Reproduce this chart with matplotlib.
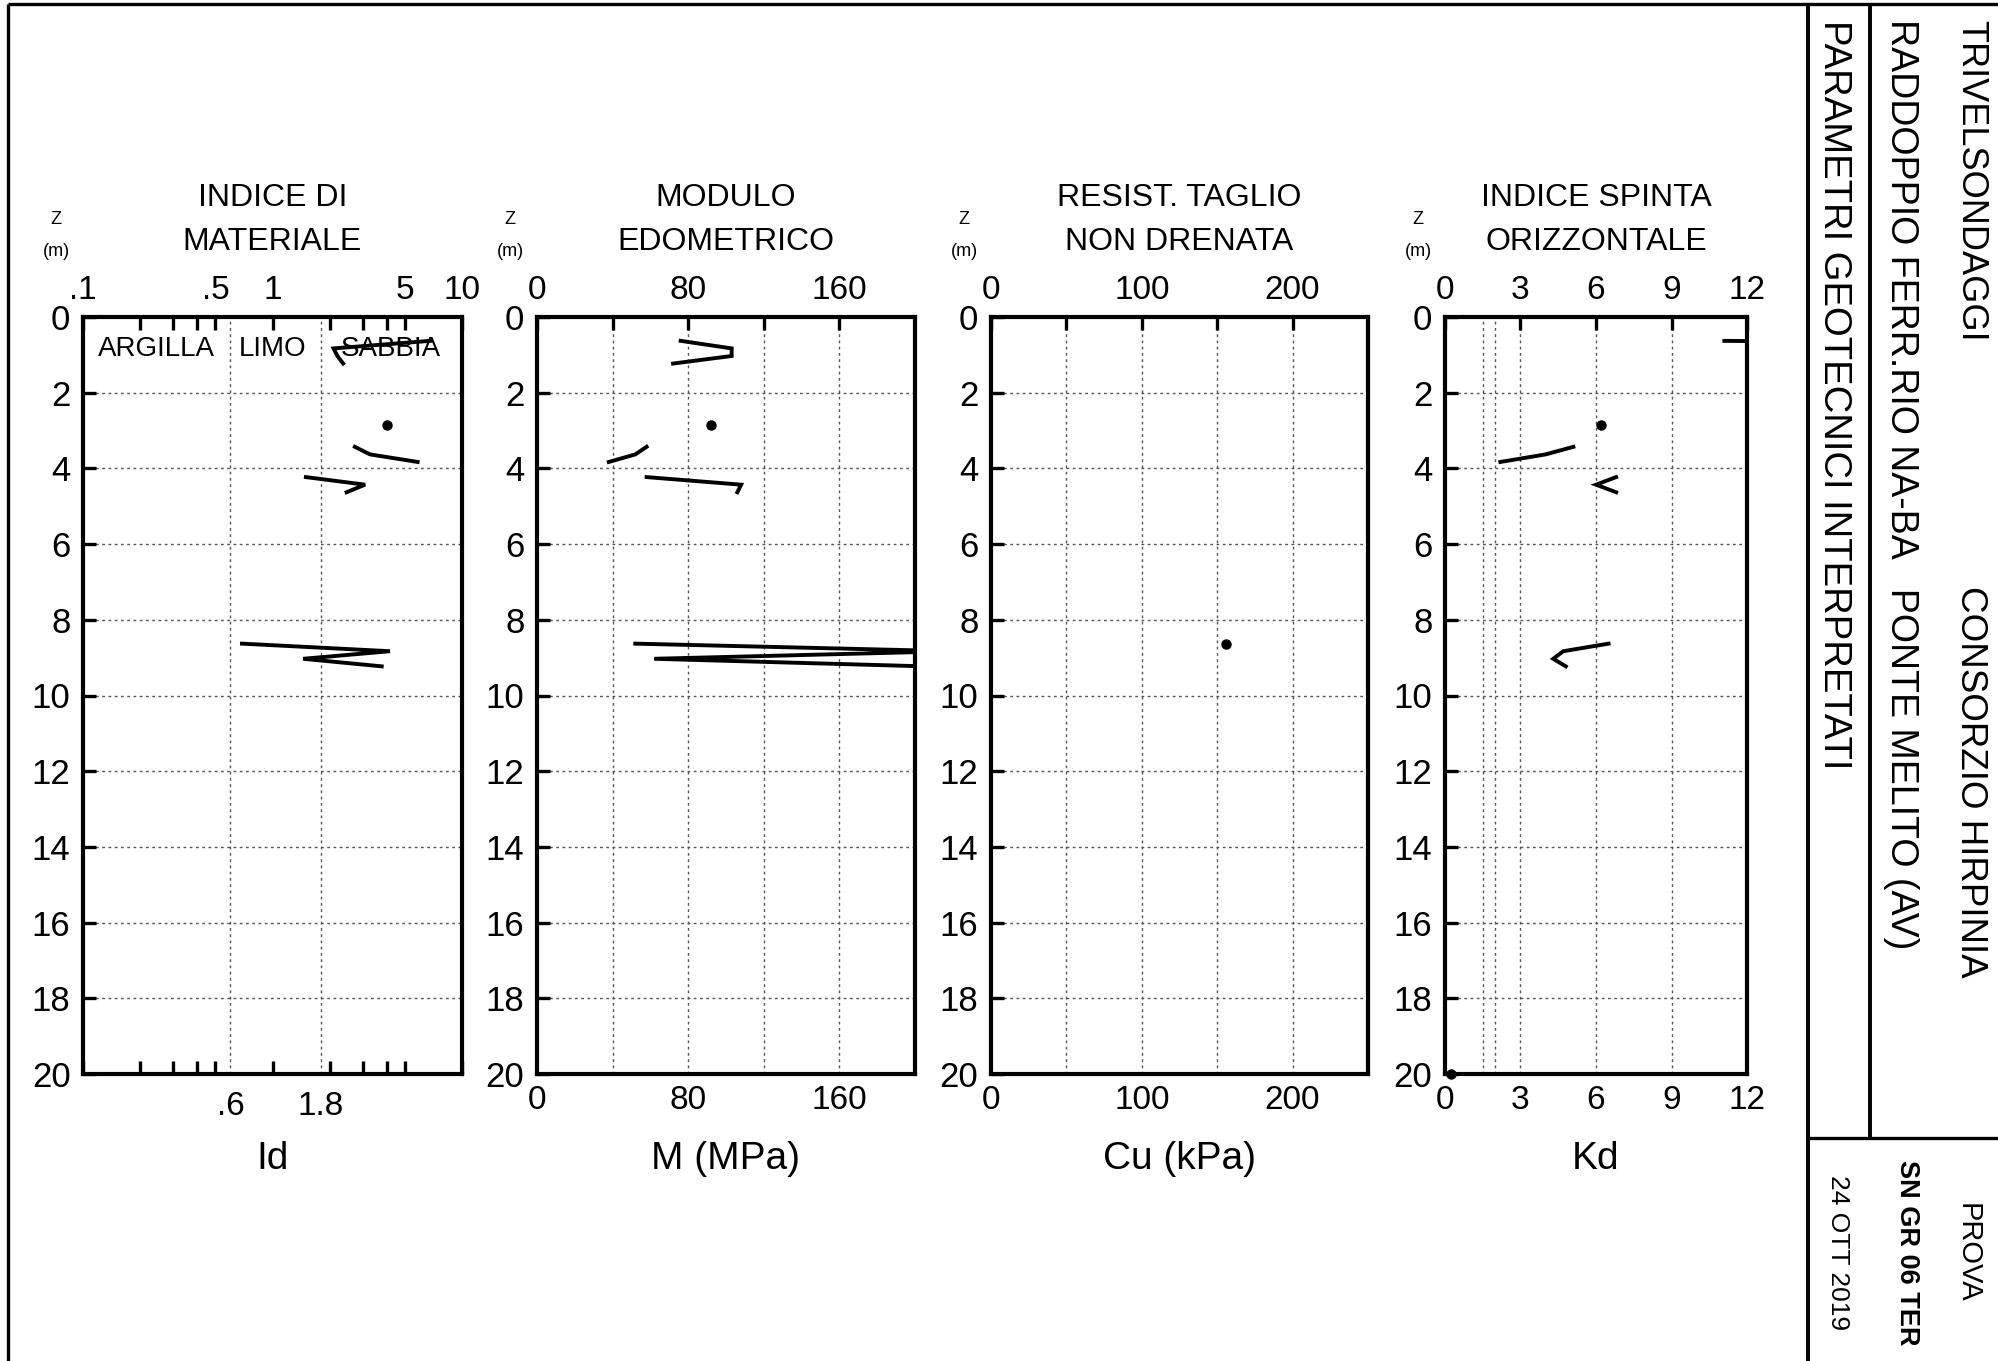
import numpy as np
import matplotlib
matplotlib.use("Agg")
import matplotlib.pyplot as plt
from matplotlib import font_manager
from matplotlib.lines import Line2D
from matplotlib.ticker import FixedLocator, FixedFormatter, NullFormatter

# dmt readings (depth in m), nan = no reading / gap
depth = [0.63, 0.83, 1.03, 1.23, 1.43, 2.85, 3.03, 3.43, 3.63, 3.83, 4.03,
         4.23, 4.43, 4.63, 4.83, 8.63, 8.83, 9.03, 9.23, 9.43, 20.0]
nan = np.nan
id_vals = [6.8, 2.1, 2.2, 2.36, nan, 4.0, nan, 2.72, 3.27, 5.83, nan,
           1.5, 3.08, 2.46, nan, 0.69, 4.17, 1.45, 3.77, nan, nan]
m_vals = [76, 103, 103, 72, nan, 92, nan, 58, 52, 38, nan,
          58, 108, 106, nan, 52, 220, 62, 205, nan, nan]
cu_vals = [nan, nan, nan, nan, nan, nan, nan, nan, nan, nan, nan,
           nan, nan, nan, nan, 156, nan, nan, nan, nan, nan]
kd_vals = [11.1, 40, 38, 25, nan, 6.2, nan, 5.1, 4.0, 2.2, nan,
           6.8, 6.0, 6.8, nan, 6.5, 4.7, 4.3, 4.8, nan, 0.25]

titles = [("INDICE DI", "MATERIALE"), ("MODULO", "EDOMETRICO"),
          ("RESIST. TAGLIO", "NON DRENATA"), ("INDICE SPINTA", "ORIZZONTALE")]
xlabels = ["Id", "M (MPa)", "Cu (kPa)", "Kd"]
soil_names = ["ARGILLA", "LIMO", "SABBIA"]
soil_pos = [0.245, 1.0, 4.2]

W, H = 1999, 1361
fig = plt.figure(figsize=(W / 100, H / 100), dpi=100)

def fx(px):
    return px / W

def fy(py):
    return 1 - py / H

names = {f.name for f in font_manager.fontManager.ttflist}
REG = "Liberation Sans" if "Liberation Sans" in names else "DejaVu Sans"
plt.rcParams["font.family"] = REG

#panel geometry in pixels
lefts = [83, 537, 991, 1445]
rights = [462, 915, 1368, 1747]
top, bottom = 317, 1074

series = [id_vals, m_vals, cu_vals, kd_vals]
cfg = [
    dict(scale="log", lim=(0.1, 10), major=[0.1, 0.5, 1, 5, 10], lab=[".1", ".5", "1", "5", "10"],
         minor=[0.2, 0.3, 0.4, 2, 3, 4], grid=[0.6, 1.8], bot=True),
    dict(scale="linear", lim=(0, 200), major=[0, 80, 160], lab=["0", "80", "160"],
         minor=[40, 120], grid=[40, 80, 120, 160], bot=False),
    dict(scale="linear", lim=(0, 250), major=[0, 100, 200], lab=["0", "100", "200"],
         minor=[50, 150], grid=[50, 100, 150, 200], bot=False),
    dict(scale="linear", lim=(0, 12), major=[0, 3, 6, 9, 12], lab=["0", "3", "6", "9", "12"],
         minor=[], grid=[1.5, 2, 3, 6, 9], bot=False),
]

def isolated(vals):
    v = np.asarray(vals, float)
    ok = ~np.isnan(v)
    prev = np.r_[False, ok[:-1]]
    nxt = np.r_[ok[1:], False]
    return ok & ~prev & ~nxt

gstyle = dict(color="#555555", lw=1.0, ls=(0, (2, 2.5)), zorder=0.5)

for i in range(4):
    c = cfg[i]
    ax = fig.add_axes([fx(lefts[i]), fy(bottom), (rights[i] - lefts[i]) / W, (bottom - top) / H])
    ax.set_xscale(c["scale"])
    ax.set_xlim(*c["lim"])
    ax.set_ylim(20, 0)
    for s in ax.spines.values():
        s.set_linewidth(3)

    for g in c["grid"]:
        ax.axvline(g, **gstyle)
    for d in range(2, 20, 2):
        ax.axhline(d, **gstyle)

    ax.xaxis.set_major_locator(FixedLocator(c["major"]))
    ax.xaxis.set_major_formatter(FixedFormatter(c["lab"]))
    ax.xaxis.set_minor_locator(FixedLocator(c["minor"]))
    ax.xaxis.set_minor_formatter(NullFormatter())
    ax.tick_params(axis="x", which="both", direction="in", top=True, bottom=c["bot"],
                   labeltop=True, labelbottom=not c["bot"], length=9.5, width=2.4,
                   labelsize=24, pad=8)
    ax.set_yticks(range(0, 21, 2))
    ax.tick_params(axis="y", direction="in", left=True, right=False, length=9.5,
                   width=2.4, labelsize=25, pad=9)

    if c["bot"]:
        for g in c["grid"]:
            ax.text(g, -0.022, f"{g:g}".lstrip("0"), transform=ax.get_xaxis_transform(),
                    ha="center", va="top", fontsize=24)
        for nm, xp in zip(soil_names, soil_pos):
            ax.text(xp, 0.85, nm, ha="center", va="center", fontsize=20, zorder=1)

    vals = series[i]
    ax.plot(vals, depth, color="black", lw=2.8, solid_joinstyle="miter", zorder=3)
    iso = isolated(vals)
    ax.plot(np.asarray(vals, float)[iso], np.asarray(depth)[iso], "o", color="black",
            ms=6.5, clip_on=False, zorder=4)

    cx = (lefts[i] + rights[i]) / 2
    fig.text(fx(cx), fy(198), titles[i][0], ha="center", va="center", fontsize=23)
    fig.text(fx(cx), fy(242), titles[i][1], ha="center", va="center", fontsize=23)
    fig.text(fx(cx), fy(1159), xlabels[i], ha="center", va="center", fontsize=28)
    fig.text(fx(lefts[i] - 27), fy(219), "Z", ha="center", va="center", fontsize=13)
    fig.text(fx(lefts[i] - 27), fy(251), "(m)", ha="center", va="center", fontsize=13)

# frame of the sheet
def fline(x0, y0, x1, y1, lw=2.4, color="black"):
    fig.add_artist(Line2D([fx(x0), fx(x1)], [fy(y0), fy(y1)], transform=fig.transFigure,
                          color=color, lw=lw, solid_capstyle="butt"))

fline(8, 4, 1999, 4)
fline(8, 4, 8, 1361)
fline(1808, 4, 1808, 1361, lw=2.8)
fline(1870, 4, 1870, 1138, lw=2.8)
fline(1808, 1138, 1999, 1138)

fig.text(fx(1971), fy(20), "TRIVELSONDAGGI", rotation=270, ha="center", va="top", fontsize=26)
fig.text(fx(1971), fy(586), "CONSORZIO HIRPINIA", rotation=270, ha="center", va="top", fontsize=26.5)
fig.text(fx(1901), fy(19), "RADDOPPIO FERR.RIO NA-BA   PONTE MELITO (AV)", rotation=270,
         ha="center", va="top", fontsize=27)
fig.text(fx(1834), fy(20), "PARAMETRI GEOTECNICI INTERPRETATI", rotation=270,
         ha="center", va="top", fontsize=27.5)
fig.text(fx(1968), fy(1253), "PROVA", rotation=270, ha="center", va="center", fontsize=21)
fig.text(fx(1907), fy(1253), "SN GR 06 TER", rotation=270, ha="center", va="center",
         fontsize=19.5, weight="bold")
fig.text(fx(1838), fy(1253), "24 OTT 2019", rotation=270, ha="center", va="center",
         fontsize=19)

fig.savefig("out.png", dpi=100, facecolor="white")
